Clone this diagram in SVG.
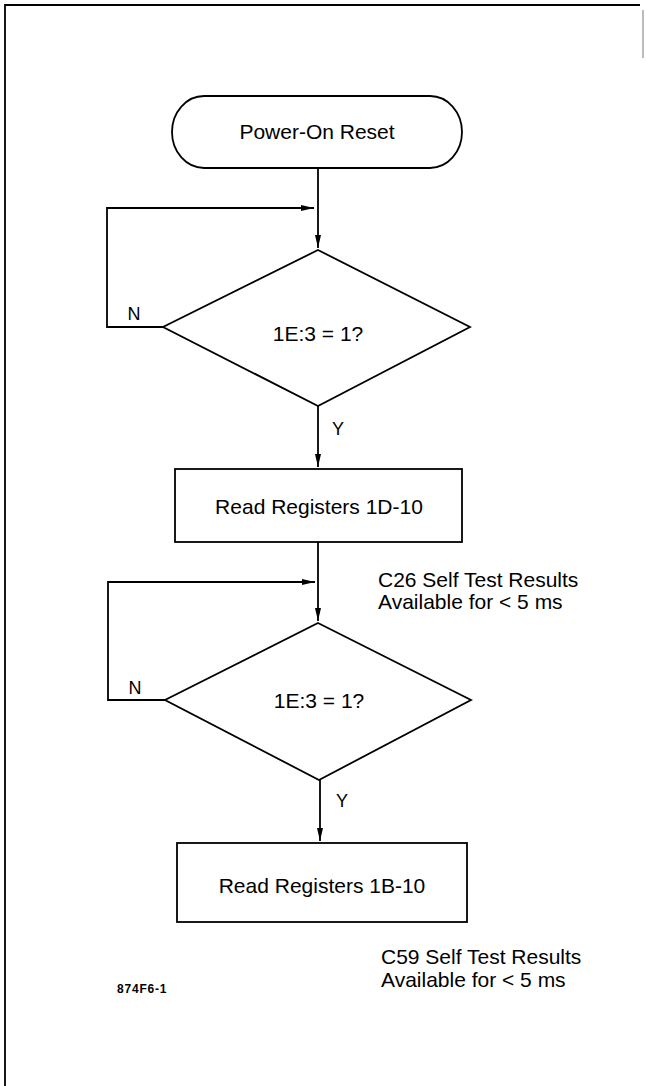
<svg xmlns="http://www.w3.org/2000/svg" width="646" height="1086" viewBox="0 0 646 1086">
<style>
.s{fill:none;stroke:#000;stroke-width:1.8}
.t{font-family:"Liberation Sans",Arial,sans-serif;font-size:21px;fill:#000}
.c{text-anchor:middle}
.lb{font-family:"Liberation Sans",Arial,sans-serif;font-size:18px;fill:#000}
</style>
<defs>
<marker id="ah" markerWidth="14" markerHeight="8" refX="13" refY="4" orient="auto" markerUnits="userSpaceOnUse">
<path d="M0,1 L13,4 L0,7 Z" fill="#000"/>
</marker>
</defs>
<rect width="646" height="1086" fill="#fff"/>
<g id="frame">
<path d="M5,1086 V5 H640" class="s" stroke-width="2.2"/>
<line x1="643" y1="10" x2="643" y2="58" stroke="#bbb" stroke-width="2"/>
</g>
<g id="connectors">
<line x1="318" y1="168" x2="318" y2="248" class="s" marker-end="url(#ah)"/>
<polyline points="163,327 107,327 107,208 314,208" class="s" marker-end="url(#ah)"/>
<line x1="318" y1="406" x2="318" y2="467" class="s" marker-end="url(#ah)"/>
<line x1="318" y1="542" x2="318" y2="621" class="s" marker-end="url(#ah)"/>
<polyline points="165,700 108,700 108,582 315,582" class="s" marker-end="url(#ah)"/>
<line x1="320" y1="780" x2="320" y2="841" class="s" marker-end="url(#ah)"/>
</g>
<g id="start">
<rect x="172" y="96" width="290" height="72" rx="32" ry="36" class="s"/>
<text x="317" y="139" class="t c">Power-On Reset</text>
</g>
<g id="decision1">
<polygon points="318,250 470,327 318,406 163,327" class="s"/>
<text x="318" y="341" class="t c">1E:3 = 1?</text>
<text x="134" y="320" class="lb c">N</text>
<text x="338" y="435" class="lb c">Y</text>
</g>
<g id="read1">
<rect x="175" y="469" width="287" height="73" class="s"/>
<text x="319" y="514" class="t c">Read Registers 1D-10</text>
</g>
<g id="note1">
<text x="378" y="587" class="t">C26 Self Test Results</text>
<text x="378" y="609" class="t">Available for &lt; 5 ms</text>
</g>
<g id="decision2">
<polygon points="318,623 471,700 319,780 165,700" class="s"/>
<text x="319" y="708" class="t c">1E:3 = 1?</text>
<text x="135" y="694" class="lb c">N</text>
<text x="342" y="807" class="lb c">Y</text>
</g>
<g id="read2">
<rect x="177" y="843" width="290" height="79" class="s"/>
<text x="322" y="893" class="t c">Read Registers 1B-10</text>
</g>
<g id="note2">
<text x="381" y="964" class="t">C59 Self Test Results</text>
<text x="381" y="987" class="t">Available for &lt; 5 ms</text>
</g>
<text x="117" y="993" font-family="Liberation Sans,Arial,sans-serif" font-size="12" font-weight="bold" letter-spacing="0.8">874F6-1</text>
</svg>
